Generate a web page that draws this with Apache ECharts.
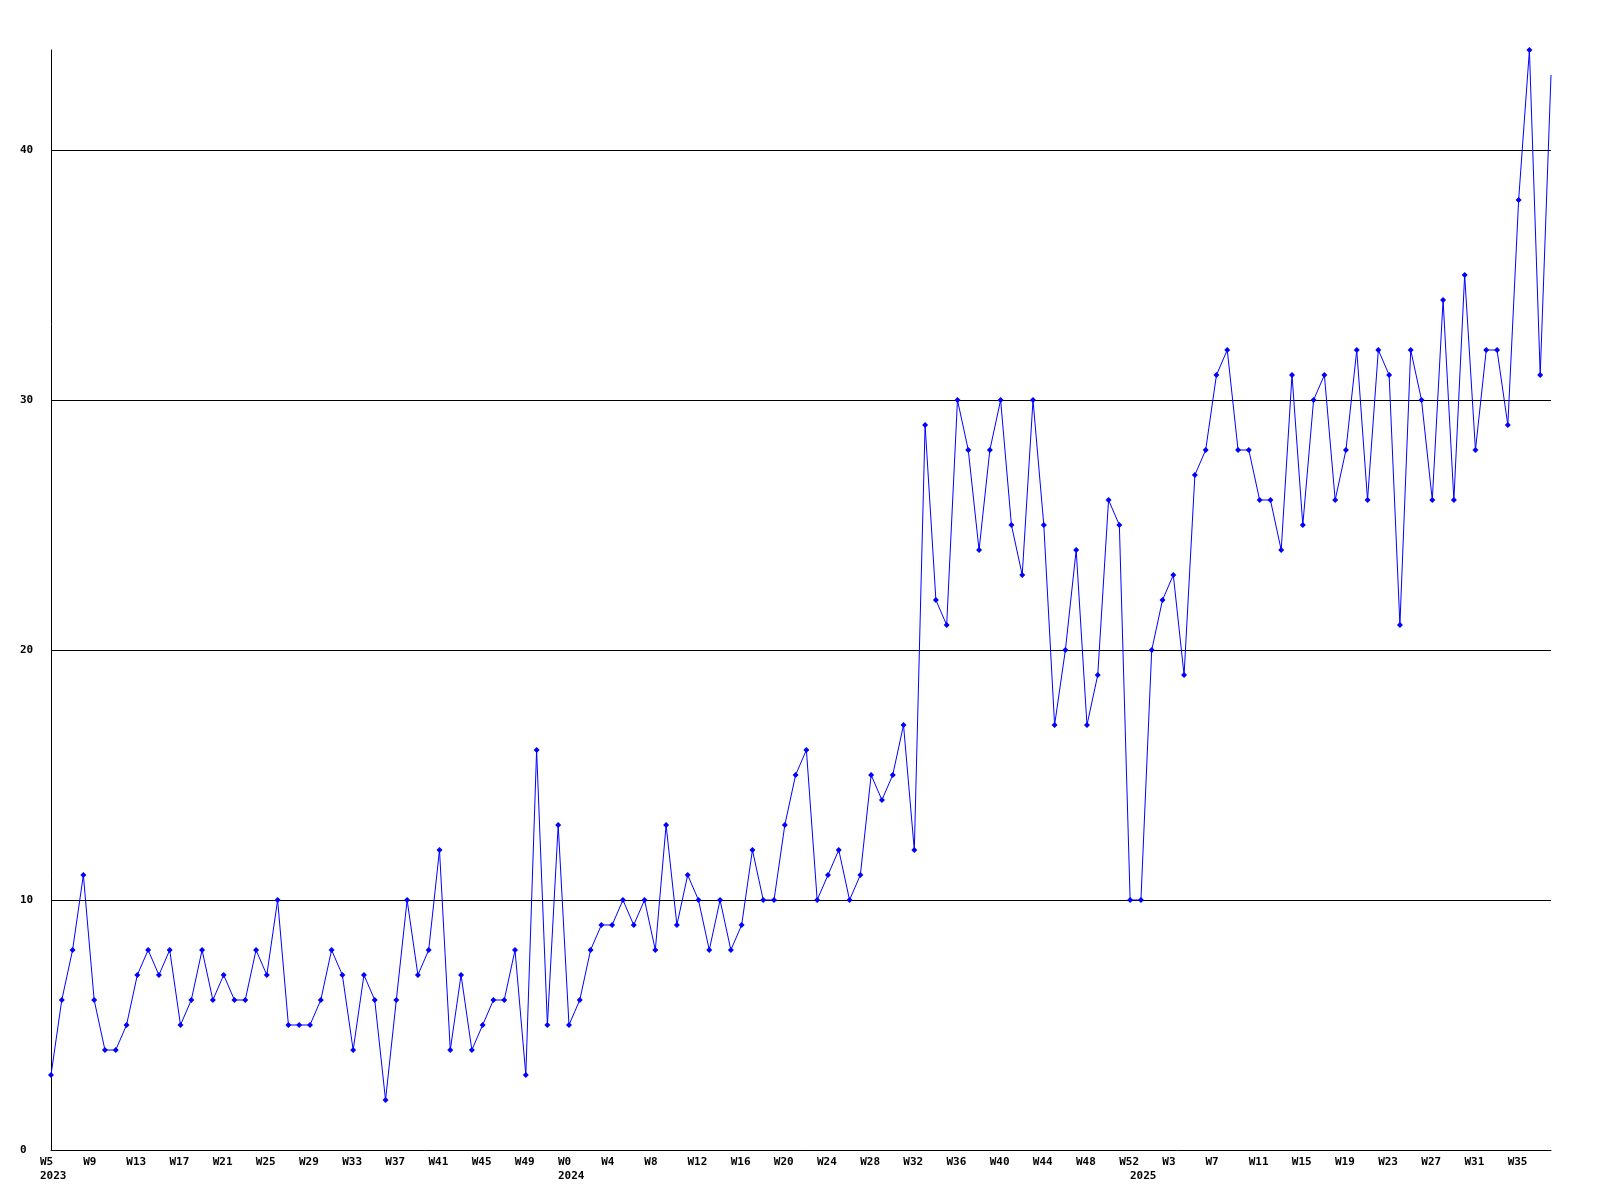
<!DOCTYPE html>
<html>
<head>
<meta charset="utf-8">
<style>
  html, body { margin: 0; padding: 0; background: #ffffff; }
  #chart { width: 1600px; height: 1200px; }
</style>
<script src="https://cdn.jsdelivr.net/npm/echarts@6/dist/echarts.min.js"></script>
</head>
<body>
<div id="chart"></div>
<script>
// ---- data ----
const yearNames = ['2023', '2024', '2025'];
const yearFirstWeek = [5, 0, 0];
const yearLastWeek = [52, 52, 38];

const values = [
  3, 6, 8, 11, 6, 4, 4, 5, 7, 8,
  7, 8, 5, 6, 8, 6, 7, 6, 6, 8,
  7, 10, 5, 5, 5, 6, 8, 7, 4, 7,
  6, 2, 6, 10, 7, 8, 12, 4, 7, 4,
  5, 6, 6, 8, 3, 16, 5, 13, 5, 6,
  8, 9, 9, 10, 9, 10, 8, 13, 9, 11,
  10, 8, 10, 8, 9, 12, 10, 10, 13, 15,
  16, 10, 11, 12, 10, 11, 15, 14, 15, 17,
  12, 29, 22, 21, 30, 28, 24, 28, 30, 25,
  23, 30, 25, 17, 20, 24, 17, 19, 26, 25,
  10, 10, 20, 22, 23, 19, 27, 28, 31, 32,
  28, 28, 26, 26, 24, 31, 25, 30, 31, 26,
  28, 32, 26, 32, 31, 21, 32, 30, 26, 34,
  26, 35, 28, 32, 32, 29, 38, 44, 31, 43
];

const yTickValues = [0, 10, 20, 30, 40];

// ---- build categories ----
const weekLabels = [];
const yearOfPoint = [];
const yearStart = [];
for (let y = 0; y < yearNames.length; y++) {
  for (let w = yearFirstWeek[y]; w <= yearLastWeek[y]; w++) {
    yearStart.push(w === yearFirstWeek[y]);
    weekLabels.push('W' + w);
    yearOfPoint.push(yearNames[y]);
  }
}
const categories = weekLabels.map((w, i) => i + '');

const FONT = 'DejaVu Sans Mono';

const chart = echarts.init(document.getElementById('chart'), null, { renderer: 'canvas' });

const seriesData = values.map((v, i) => (i === values.length - 1 ? { value: v, symbol: 'none' } : v));

chart.setOption({
  animation: false,
  backgroundColor: '#ffffff',
  grid: { left: 51, right: 49, top: 50, bottom: 50, containLabel: false },
  xAxis: {
    type: 'category',
    data: categories,
    boundaryGap: false,
    axisLine: { show: true, lineStyle: { color: '#000000', width: 1 } },
    axisTick: { show: false },
    splitLine: { show: false },
    axisLabel: {
      show: true,
      interval: function (idx) { return idx % 4 === 0 || yearStart[idx]; },
      margin: 5,
      align: 'center',
      verticalAlign: 'top',
      formatter: function (val, idx) {
        const showWeek = idx % 4 === 0;
        const wk = showWeek ? weekLabels[idx] : ' ';
        let s = '{w|' + wk + '}';
        if (yearStart[idx]) s += '\n{w|' + yearOfPoint[idx] + '}';
        return s;
      },
      rich: {
        w: {
          width: 22,
          align: 'left',
          fontFamily: FONT,
          fontWeight: 'bold',
          fontSize: 11,
          lineHeight: 14,
          color: '#000000'
        }
      }
    }
  },
  yAxis: {
    type: 'value',
    min: 0,
    max: 44,
    interval: 10,
    axisLine: { show: true, lineStyle: { color: '#000000', width: 1 } },
    axisTick: { show: false },
    splitLine: { show: true, showMinLine: false, showMaxLine: false, lineStyle: { color: '#000000', width: 1 } },
    axisLabel: {
      show: true,
      align: 'left',
      margin: 31,
      showMaxLabel: false,
      fontFamily: FONT,
      fontWeight: 'bold',
      fontSize: 11,
      color: '#000000',
      formatter: function (v) { return yTickValues.indexOf(v) >= 0 ? String(v) : ''; }
    }
  },
  series: [{
    type: 'line',
    data: seriesData,
    showAllSymbol: true,
    symbol: 'diamond',
    symbolSize: 6,
    lineStyle: { color: '#0000ff', width: 1 },
    itemStyle: { color: '#0000ff' },
    emphasis: { disabled: true },
    clip: true
  }]
});
</script>
</body>
</html>
